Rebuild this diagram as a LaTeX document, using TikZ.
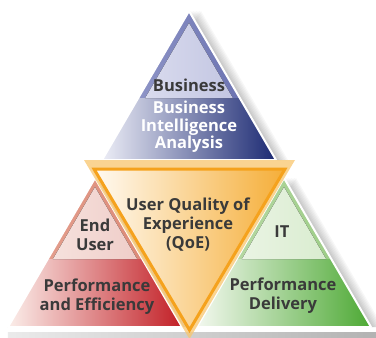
\documentclass[tikz,border=0pt]{standalone}
\usepackage{fontspec}
\setmainfont{Open Sans}
\usepackage{tikz}

\definecolor{txt}{HTML}{3A3A3A}
\definecolor{loblu}{HTML}{ECEDF6}
\definecolor{hiblu}{HTML}{1C2A73}
\definecolor{rlblu}{HTML}{9AA0CE}
\definecolor{rrblu}{HTML}{5F67AA}
\definecolor{ilblu}{HTML}{D9DBEE}
\definecolor{irblu}{HTML}{C3C6E2}
\definecolor{lored}{HTML}{FBEEEA}
\definecolor{hired}{HTML}{C21F26}
\definecolor{rlred}{HTML}{E6A595}
\definecolor{rrred}{HTML}{D9826E}
\definecolor{ilred}{HTML}{F6E1DD}
\definecolor{irred}{HTML}{EFCDC8}
\definecolor{logrn}{HTML}{F3F8EF}
\definecolor{higrn}{HTML}{4DA934}
\definecolor{rlgrn}{HTML}{BFDDAE}
\definecolor{rrgrn}{HTML}{93C87B}
\definecolor{ilgrn}{HTML}{EAF4E4}
\definecolor{irgrn}{HTML}{D9ECCF}
\definecolor{qoeband}{HTML}{F8C66E}
\definecolor{qoeline}{HTML}{F5A21D}
\definecolor{qoelo}{HTML}{FFFAF2}
\definecolor{qoehi}{HTML}{F5AE38}

\tikzset{lbl/.style={font=\bfseries\fontsize{16.5}{19}\selectfont, text=txt,
    align=center, inner sep=0pt}}

\begin{document}
\begin{tikzpicture}[x=1pt, y=-1pt]
\useasboundingbox (0,0) rectangle (376,338);

\fill[left color=black!8, right color=black!30] (8,332) rectangle (376,338);

\foreach \px/\py/\iy/\ib/\col in {189/11/23/98/blu, 95/178/187/259/red, 284/178/187/259/grn} {
  \foreach \s in {1,...,8}
    \fill[black, opacity=0.03, shift={(\s*1.5,0)}]
      (\px,\py) -- ++(87,149) -- ++(-174,0) -- cycle;
  \fill[left color=rl\col, right color=rr\col]
    (\px,\py) -- ++(87,149) -- ++(-174,0) -- cycle;
  \begin{scope}
    \clip (\px,\py) -- ++(87,149) -- ++(-174,0) -- cycle;
    \fill[left color=lo\col, right color=hi\col] (\px-87,\ib) rectangle (\px+87,\py+149);
  \end{scope}
  \fill[left color=il\col, right color=ir\col]
    (\px,\iy) -- ({\px+0.584*(\ib-\iy)},\ib) -- ({\px-0.584*(\ib-\iy)},\ib) -- cycle;
  \draw[white, line width=2, line join=round]
    (\px,\py) -- ++(87,149) -- ++(-174,0) -- cycle;
}

\fill[qoeband, opacity=0.75] (84,160) -- (295,160) -- (189.5,339) -- cycle;
\draw[qoeline, line width=3, left color=qoelo, right color=qoehi]
  (94,169) -- (285,169) -- (189.5,330) -- cycle;

\node[lbl] (bizHead) at (189,85.5) {Business};
\node[lbl, text=white] (bizBody) at (189,127) {Business\\[-1.5pt]Intelligence\\[-1.5pt]Analysis};
\node[lbl] (qoe) at (188,224.5) {User Quality of\\Experience\\(QoE)};
\node[lbl] (endUser) at (95,235) {End\\User};
\node[lbl] (perfEff) at (97,296.5) {Performance\\and Efficiency};
\node[lbl] (itHead) at (282,231.5) {IT};
\node[lbl] (perfDel) at (283,296) {Performance\\Delivery};

\end{tikzpicture}
\end{document}
